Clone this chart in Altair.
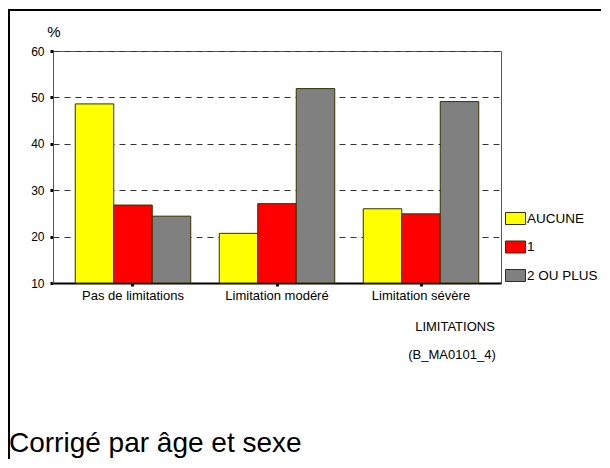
import altair as alt
import pandas as pd

categories = ["Pas de limitations", "Limitation modéré", "Limitation sévère"]
series = ["AUCUNE", "1", "2 OU PLUS"]
aucune = [48.6, 20.7, 26.0]
un = [26.8, 27.1, 24.9]
deux_plus = [24.4, 51.9, 49.1]
colors = ["#FFFF00", "#FF0000", "#808080"]
y_ticks = [10, 20, 30, 40, 50, 60]

rows = []
for s, vals in zip(series, [aucune, un, deux_plus]):
    for c, v in zip(categories, vals):
        rows.append({"cat": c, "serie": s, "val": v})
df = pd.DataFrame(rows)

FONT = "Liberation Sans"

bars = alt.Chart(df).mark_bar(stroke="#333300", strokeWidth=1).encode(
    x=alt.X("cat:N", sort=categories,
            scale=alt.Scale(paddingInner=0.198, paddingOuter=0.1545),
            axis=alt.Axis(title=None, labelAngle=0, labelFontSize=13, labelFont=FONT,
                          labelColor="black", tickSize=3, tickWidth=3, tickColor="black",
                          domainColor="black", domainWidth=2, labelPadding=3, grid=False)),
    xOffset=alt.XOffset("serie:N", sort=series, scale=alt.Scale(paddingInner=0, paddingOuter=0)),
    y=alt.Y("val:Q", scale=alt.Scale(domain=[10, 60], zero=False, nice=False),
            axis=alt.Axis(title=None, values=y_ticks, labelFontSize=12, labelFont=FONT,
                          labelColor="black", tickSize=3, tickWidth=3, tickColor="black",
                          domainColor="#555555", domainWidth=1, labelPadding=6,
                          grid=True, gridColor="#333333", gridDash=[6, 5], gridWidth=1)),
    y2=alt.datum(10),
    color=alt.Color("serie:N", sort=series,
                    scale=alt.Scale(domain=series, range=colors),
                    legend=alt.Legend(title=None, orient="none", legendX=452, legendY=157,
                                      symbolType="M-1,-0.6H1V0.6H-1Z", symbolSize=400,
                                      symbolStrokeColor="#333300", symbolStrokeWidth=1,
                                      symbolOpacity=1, labelFontSize=13.5, labelFont=FONT,
                                      labelColor="black", rowPadding=9.5, labelOffset=1,
                                      padding=0)),
)

texts = pd.DataFrame({"t": ["%", "LIMITATIONS", "(B_MA0101_4)", "Corrigé par âge et sexe"]})

pct = alt.Chart(texts[texts.t == "%"]).mark_text(
    font=FONT, fontSize=15, color="black", align="center", baseline="middle"
).encode(text="t:N", x=alt.value(1), y=alt.value(-19))

lim = alt.Chart(texts[texts.t == "LIMITATIONS"]).mark_text(
    font=FONT, fontSize=13, color="black", align="center", baseline="middle"
).encode(text="t:N", x=alt.value(402), y=alt.value(276))

code = alt.Chart(texts[texts.t == "(B_MA0101_4)"]).mark_text(
    font=FONT, fontSize=13, color="black", align="center", baseline="middle"
).encode(text="t:N", x=alt.value(399), y=alt.value(304))

note = alt.Chart(texts[texts.t == "Corrigé par âge et sexe"]).mark_text(
    font=FONT, fontSize=28, color="black", align="left", baseline="alphabetic"
).encode(text="t:N", x=alt.value(-44), y=alt.value(401))

frame_left = alt.Chart(texts.head(1)).mark_rule(color="black", strokeWidth=2).encode(
    x=alt.value(-44), y=alt.value(-41), y2=alt.value(409))
frame_top = alt.Chart(texts.head(1)).mark_rule(color="black", strokeWidth=2).encode(
    x=alt.value(-45), x2=alt.value(549), y=alt.value(-41))

chart = alt.layer(bars, pct, lim, code, note, frame_left, frame_top).properties(
    width=448, height=232,
    autosize=alt.AutoSizeParams(type="none"),
    padding={"left": 45, "top": 43, "right": 100, "bottom": 176},
    background="white",
).configure_view(stroke="#555555", strokeWidth=1)

chart.save("out.html", embed_options={"renderer": "svg", "actions": False})
